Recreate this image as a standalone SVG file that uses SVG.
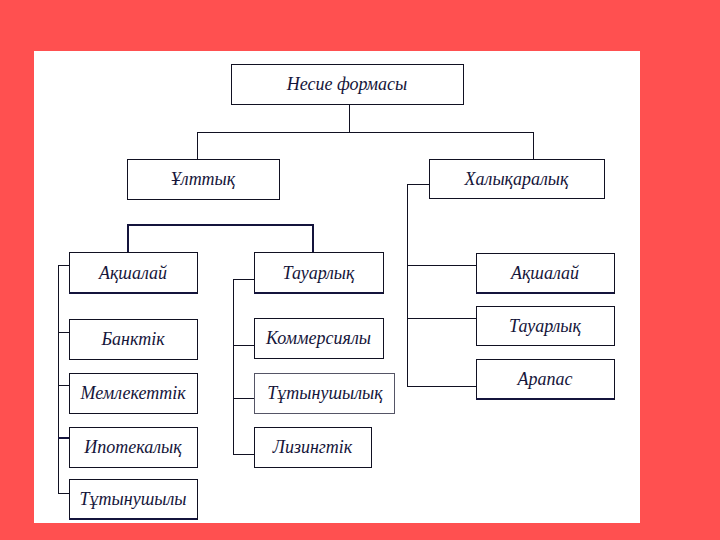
<svg xmlns="http://www.w3.org/2000/svg" width="720" height="540" viewBox="0 0 720 540">
<style>
.box{fill:#ffffff;stroke:#111122;stroke-width:1;shape-rendering:crispEdges}
.bot{stroke:#14143c;stroke-width:2;shape-rendering:crispEdges}
.t{font-family:"Liberation Serif","Times New Roman",serif;font-style:italic;font-size:18px;fill:#15153a;text-anchor:middle}
.c{fill:none;stroke:#111122;stroke-width:1;shape-rendering:crispEdges}
.c2{fill:none;stroke:#14143c;stroke-width:2.6;shape-rendering:crispEdges}
</style>
<rect x="0" y="0" width="720" height="540" fill="#ff5050"/>
<rect x="34" y="51" width="606" height="472" fill="#ffffff"/>
<g id="connectors">
<path class="c" d="M349 104V132M197 132H533M197 132V159M533 132V159"/>
<path class="c2" d="M128 252V225H313V252"/>
<path class="c" d="M58 265V493M58 265H69M58 332H69M58 385H69M58 493H69"/>
<path class="c2" d="M58 438H69"/>
<path class="c" d="M233 279V454M233 279H256M233 345H254M233 398H254M233 454H254"/>
<path class="c" d="M407 184V386M407 184H429M407 265H476M407 318H476M407 386H476"/>
</g>
<g id="n-root"><rect class="box" x="231" y="64" width="232" height="40"/><text class="t" x="347" y="90">Несие формасы</text></g>
<g id="n-ulttyk"><rect class="box" x="127" y="159" width="152" height="40"/><text class="t" x="203" y="185">Ұлттық</text></g>
<g id="n-khalyk"><rect class="box" x="429" y="159" width="175" height="39"/><text class="t" x="516.5" y="184.5">Халықаралық</text></g>
<g id="n-akshalai1"><rect class="box" x="69" y="252" width="128" height="41"/><line class="bot" x1="69" y1="292.5" x2="197" y2="292.5"/><text class="t" x="133" y="278.5">Ақшалай</text></g>
<g id="n-banktik"><rect class="box" x="69" y="319" width="128" height="40"/><text class="t" x="133" y="345">Банктік</text></g>
<g id="n-memlek"><rect class="box" x="69" y="373" width="128" height="40"/><text class="t" x="133" y="399">Мемлекеттік</text></g>
<g id="n-ipoteka"><rect class="box" x="69" y="427" width="128" height="40"/><text class="t" x="133" y="453">Ипотекалық</text></g>
<g id="n-tutyn1"><rect class="box" x="69" y="479" width="128" height="40"/><line class="bot" x1="69" y1="518.5" x2="197" y2="518.5"/><text class="t" x="133" y="505">Тұтынушылы</text></g>
<g id="n-tauar1"><rect class="box" x="254" y="252" width="129" height="41"/><line class="bot" x1="254" y1="292.5" x2="383" y2="292.5"/><text class="t" x="318.5" y="278.5">Тауарлық</text></g>
<g id="n-kommer"><rect class="box" x="254" y="318" width="129" height="40"/><text class="t" x="318.5" y="344">Коммерсиялы</text></g>
<g id="n-tutyn2"><rect class="box" x="254" y="373" width="140" height="40" style="stroke:#555566"/><text class="t" x="325" y="399">Тұтынушылық</text></g>
<g id="n-lizing"><rect class="box" x="254" y="427" width="117" height="40"/><text class="t" x="312.5" y="453">Лизингтік</text></g>
<g id="n-akshalai2"><rect class="box" x="476" y="253" width="138" height="40"/><line class="bot" x1="476" y1="292.5" x2="614" y2="292.5"/><text class="t" x="545" y="279">Ақшалай</text></g>
<g id="n-tauar2"><rect class="box" x="476" y="306" width="138" height="39"/><text class="t" x="545" y="331.5">Тауарлық</text></g>
<g id="n-arapas"><rect class="box" x="476" y="359" width="138" height="40"/><line class="bot" x1="476" y1="398.5" x2="614" y2="398.5"/><text class="t" x="545" y="385">Арапас</text></g>
</svg>
